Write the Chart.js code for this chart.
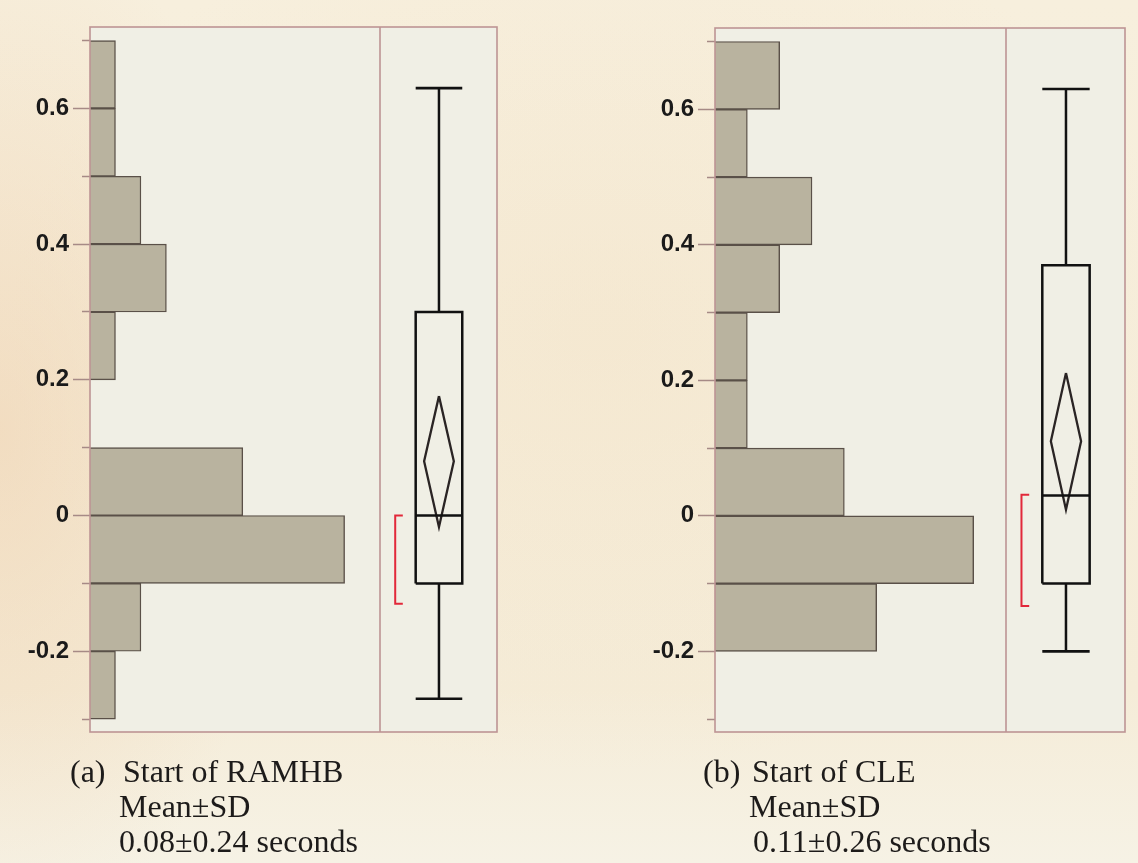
<!DOCTYPE html>
<html>
<head>
<meta charset="utf-8">
<title>Start timing distributions</title>
<script src="https://cdn.jsdelivr.net/npm/chart.js@4/dist/chart.umd.min.js"></script>
<style>
  html, body { margin: 0; padding: 0; }
  body {
    width: 1138px; height: 863px; position: relative; overflow: hidden;
    background:
      radial-gradient(ellipse 360px 640px at 0px 430px, rgba(236,198,158,0.42), rgba(236,198,158,0) 80%),
      radial-gradient(ellipse 700px 520px at 600px 330px, rgba(240,214,176,0.22), rgba(240,214,176,0) 85%),
      linear-gradient(180deg, #f7efdd 0%, #f5ecd8 80%, #f6f2e5 100%);
  }
  canvas { position: absolute; top: 0; }
  .cap {
    position: absolute; white-space: pre;
    font-family: "Liberation Serif", "Times New Roman", serif;
    font-size: 32px; line-height: 35px; color: #1d1b1a;
  }
</style>
</head>
<body>
<canvas id="panelA" width="560" height="760" style="left:0px"></canvas>
<canvas id="panelB" width="538" height="760" style="left:600px"></canvas>
<div id="captions"></div>

<script>
// Histogram bins: lower edge of each 0.1 s bin
const binLower = [-0.3, -0.2, -0.1, 0.0, 0.1, 0.2, 0.3, 0.4, 0.5, 0.6];
const binWidth = 0.1;
const countsRAMHB = [1, 2, 10, 6, 0, 1, 3, 2, 1, 1];
const countsCLE   = [0, 5, 8, 4, 1, 1, 2, 3, 1, 2];

// Box-plot five-number summaries: min, Q1, median, Q3, max
const boxRAMHB = [-0.27, -0.10, 0.00, 0.30, 0.63];
const boxCLE   = [-0.20, -0.10, 0.03, 0.37, 0.63];

// Mean diamonds: lower 95% limit, mean, upper 95% limit
const diamondRAMHB = [-0.017, 0.08, 0.176];
const diamondCLE   = [0.009, 0.11, 0.211];

// Shortest half brackets: lower, upper
const shortestRAMHB = [-0.13, 0.00];
const shortestCLE   = [-0.133, 0.031];

// Axis ticks
const yMajorTicks = [-0.2, 0, 0.2, 0.4, 0.6];
const yMinorTicks = [-0.3, -0.1, 0.1, 0.3, 0.5, 0.7];

// Caption text
const captionRAMHB = ['(a)', 'Start of RAMHB', 'Mean\u00B1SD', '0.08\u00B10.24 seconds'];
const captionCLE   = ['(b)', 'Start of CLE', 'Mean\u00B1SD', '0.11\u00B10.26 seconds'];

// ---- styling / layout ----
const Y_MIN = -0.319, Y_MAX = 0.72;
const PLOT_BG = '#f0efe5';
const FRAME = '#bd9494';
const TICK = '#a68a86';
const BAR_FILL = '#b9b39f';
const BAR_EDGE = '#5a5048';
const INK = '#111111';
const RED = '#e2283a';
const SANS = '"Liberation Sans", Arial, sans-serif';

// positions inside the box-plot column (0..1 across the column)
const BOX_L = 0.305, BOX_R = 0.703, BOX_C = 0.504;
const DIAMOND_HALF = 0.127;
const BRACKET_X = 0.13, BRACKET_ARM = 0.065;

const paperPlugin = {
  id: 'paper',
  beforeDraw(chart) {
    const { ctx, chartArea: a } = chart;
    ctx.save();
    ctx.fillStyle = PLOT_BG;
    ctx.fillRect(a.left, a.top, a.right - a.left, a.bottom - a.top);
    ctx.restore();
  },
  afterDatasetsDraw(chart) {
    const { ctx, chartArea: a } = chart;
    const div = chart.scales.xb.left;
    ctx.save();
    ctx.strokeStyle = FRAME;
    ctx.lineWidth = 1.6;
    ctx.strokeRect(a.left, a.top, a.right - a.left, a.bottom - a.top);
    ctx.beginPath();
    ctx.moveTo(div, a.top);
    ctx.lineTo(div, a.bottom);
    ctx.stroke();
    ctx.restore();
  }
};

function lineSet(points, color, width) {
  return {
    type: 'line', xAxisID: 'xb', yAxisID: 'y', indexAxis: 'x',
    data: points, borderColor: color, borderWidth: width,
    pointRadius: 0, pointHoverRadius: 0,
    fill: false, tension: 0, spanGaps: false,
    borderCapStyle: 'butt', borderJoinStyle: 'miter'
  };
}

function makePanel(id, cfg) {
  const [mn, q1, med, q3, mx] = cfg.box;
  const [ciLo, mean, ciHi] = cfg.diamond;
  const [shLo, shHi] = cfg.shortest;

  const histogram = {
    type: 'bar', indexAxis: 'y', xAxisID: 'xh', yAxisID: 'y',
    data: binLower.map((lo, i) => ({ x: cfg.counts[i], y: lo + binWidth / 2 })),
    backgroundColor: BAR_FILL, borderColor: BAR_EDGE, borderWidth: 1.4,
    borderSkipped: 'start', grouped: false, barPercentage: 1, categoryPercentage: 1
  };

  const datasets = [
    histogram,
    // box
    lineSet([{x: BOX_L, y: q1}, {x: BOX_R, y: q1}, {x: BOX_R, y: q3}, {x: BOX_L, y: q3}, {x: BOX_L, y: q1}], INK, 2.5),
    // median
    lineSet([{x: BOX_L, y: med}, {x: BOX_R, y: med}], INK, 2.5),
    // whiskers
    lineSet([{x: BOX_C, y: q3}, {x: BOX_C, y: mx}], INK, 2.5),
    lineSet([{x: BOX_C, y: q1}, {x: BOX_C, y: mn}], INK, 2.5),
    // whisker caps
    lineSet([{x: BOX_L, y: mx}, {x: BOX_R, y: mx}], INK, 2.7),
    lineSet([{x: BOX_L, y: mn}, {x: BOX_R, y: mn}], INK, 2.7),
    // mean diamond
    lineSet([{x: BOX_C, y: ciHi}, {x: BOX_C + DIAMOND_HALF, y: mean}, {x: BOX_C, y: ciLo},
             {x: BOX_C - DIAMOND_HALF, y: mean}, {x: BOX_C, y: ciHi}], '#2a2424', 2.3),
    // shortest half bracket
    lineSet([{x: BRACKET_X + BRACKET_ARM, y: shHi}, {x: BRACKET_X, y: shHi},
             {x: BRACKET_X, y: shLo}, {x: BRACKET_X + BRACKET_ARM, y: shLo}], RED, 2)
  ];

  const hiddenX = (weight, stackWeight, max) => ({
    type: 'linear', position: 'bottom', stack: 'cols', stackWeight, weight,
    min: 0, max, offset: false,
    ticks: { display: false }, grid: { display: false, drawTicks: false },
    border: { display: false },
    afterFit: s => { s.height = 0; }
  });

  return new Chart(document.getElementById(id), {
    type: 'bar',
    data: { datasets },
    options: {
      responsive: false, maintainAspectRatio: false, animation: false,
      events: [],
      layout: { padding: { left: 0, top: cfg.padTop, right: cfg.padRight, bottom: cfg.padBottom } },
      plugins: { legend: { display: false }, tooltip: { enabled: false } },
      scales: {
        y: {
          type: 'linear', position: 'left', weight: 2, min: Y_MIN, max: Y_MAX, offset: false,
          afterBuildTicks: s => { s.ticks = yMajorTicks.map(v => ({ value: v })); },
          afterFit: s => { s.width = cfg.yWidth; },
          ticks: {
            callback: v => String(Number(v.toFixed(1))),
            font: { family: SANS, size: 24, weight: 'bold' }, color: '#1a1a1a', padding: 4
          },
          grid: { drawOnChartArea: false, offset: false, tickLength: 17, tickColor: TICK, tickWidth: 1.5 },
          border: { display: false }
        },
        y2: {
          type: 'linear', position: 'left', weight: 1, min: Y_MIN, max: Y_MAX, offset: false,
          afterBuildTicks: s => { s.ticks = yMinorTicks.map(v => ({ value: v })); },
          afterFit: s => { s.width = 0; },
          ticks: { display: false },
          grid: { drawOnChartArea: false, offset: false, tickLength: 8, tickColor: TICK, tickWidth: 1.5 },
          border: { display: false }
        },
        xh: hiddenX(0, cfg.histWeight, cfg.histMax),
        xb: hiddenX(1, cfg.boxWeight, 1)
      }
    },
    plugins: [paperPlugin]
  });
}

makePanel('panelA', {
  counts: countsRAMHB, box: boxRAMHB, diamond: diamondRAMHB, shortest: shortestRAMHB,
  yWidth: 90, padTop: 27, padRight: 63, padBottom: 28,
  histWeight: 290, boxWeight: 117, histMax: 11.39
});
makePanel('panelB', {
  counts: countsCLE, box: boxCLE, diamond: diamondCLE, shortest: shortestCLE,
  yWidth: 115, padTop: 28, padRight: 13, padBottom: 28,
  histWeight: 291, boxWeight: 119, histMax: 9.0
});

// captions under each panel
function addCaption(lines, pos) {
  const host = document.getElementById('captions');
  lines.forEach((text, i) => {
    const d = document.createElement('div');
    d.className = 'cap';
    d.textContent = text;
    d.style.left = pos[i][0] + 'px';
    d.style.top = pos[i][1] + 'px';
    host.appendChild(d);
  });
}
addCaption(captionRAMHB, [[70, 754], [123, 754], [119, 789], [119, 824]]);
addCaption(captionCLE,   [[703, 754], [752, 754], [749, 789], [753, 824]]);
</script>
</body>
</html>
